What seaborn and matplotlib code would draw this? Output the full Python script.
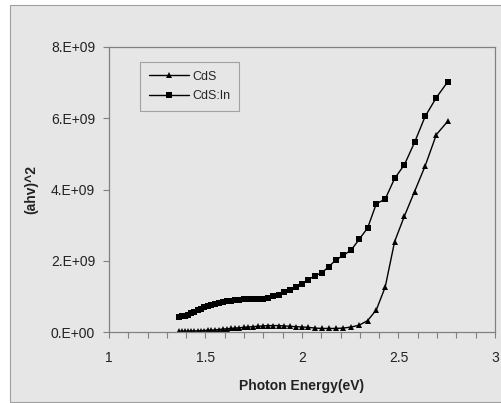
import matplotlib
matplotlib.use("Agg")
import matplotlib.pyplot as plt
from matplotlib.patches import Rectangle
from matplotlib.ticker import FuncFormatter, MultipleLocator
import seaborn as sns
import pandas as pd

# Photon energy (eV) of each measurement
energy = [2.756, 2.696, 2.638, 2.583, 2.531, 2.480, 2.431, 2.385, 2.340, 2.296,
          2.255, 2.214, 2.175, 2.138, 2.102, 2.067, 2.033, 2.000, 1.968, 1.938,
          1.908, 1.879, 1.851, 1.824, 1.797, 1.771, 1.746, 1.722, 1.699, 1.676,
          1.653, 1.632, 1.610, 1.590, 1.570, 1.550, 1.531, 1.512, 1.494, 1.476,
          1.459, 1.442, 1.425, 1.409, 1.393, 1.378, 1.363]

# (alpha h nu)^2 in units of 1e9
cds = [5.92, 5.54, 4.66, 3.94, 3.26, 2.54, 1.26, 0.62, 0.32, 0.19,
       0.14, 0.11, 0.10, 0.10, 0.10, 0.11, 0.13, 0.14, 0.15, 0.16,
       0.17, 0.18, 0.18, 0.18, 0.17, 0.16, 0.15, 0.14, 0.13, 0.12,
       0.11, 0.10, 0.09, 0.08, 0.07, 0.06, 0.05, 0.05, 0.04, 0.04,
       0.03, 0.03, 0.03, 0.02, 0.02, 0.02, 0.02]
cds_in = [7.03, 6.58, 6.05, 5.32, 4.70, 4.31, 3.73, 3.60, 2.92, 2.60,
          2.30, 2.15, 2.02, 1.83, 1.66, 1.58, 1.47, 1.35, 1.26, 1.19,
          1.11, 1.05, 1.00, 0.96, 0.93, 0.93, 0.93, 0.93, 0.92, 0.91,
          0.89, 0.88, 0.86, 0.84, 0.82, 0.80, 0.77, 0.74, 0.70, 0.65,
          0.61, 0.57, 0.53, 0.49, 0.46, 0.44, 0.42]

yticks = [0, 2e9, 4e9, 6e9, 8e9]

df = pd.DataFrame({
    "E": energy,
    "CdS": [v * 1e9 for v in cds],
    "CdS:In": [v * 1e9 for v in cds_in],
})

sns.set_style("white")
plt.rcParams["font.family"] = ["Liberation Sans", "DejaVu Sans"]

bg = "#e6e6e6"
fig = plt.figure(figsize=(5.02, 4.03), dpi=100, facecolor="white")
fig.patches.append(Rectangle((10 / 502, 1 / 403), 494 / 502, 397 / 403,
                             transform=fig.transFigure, facecolor=bg,
                             edgecolor="#a0a0a0", linewidth=0.8, zorder=-10))

ax = fig.add_axes([109 / 502, 71 / 403, 386 / 502, 285 / 403])
ax.set_facecolor(bg)

sns.lineplot(data=df, x="E", y="CdS", ax=ax, color="black", marker="^",
             markersize=4.5, markeredgewidth=0, linewidth=1.0, label="CdS")
sns.lineplot(data=df, x="E", y="CdS:In", ax=ax, color="black", marker="s",
             markersize=3.8, markeredgewidth=0, linewidth=1.0, label="CdS:In")

ax.set_xlim(1, 3)
ax.set_ylim(0, 8e9)
ax.xaxis.set_major_locator(MultipleLocator(0.5))
ax.xaxis.set_minor_locator(MultipleLocator(0.1))
ax.set_yticks(yticks)
ax.yaxis.set_major_formatter(FuncFormatter(
    lambda v, p: "0.E+00" if v == 0 else f"{v / 1e9:.0f}.E+09"))
ax.xaxis.set_major_formatter(FuncFormatter(lambda v, p: f"{v:g}"))

for s in ax.spines.values():
    s.set_color("#808080")
    s.set_linewidth(0.9)

ax.tick_params(axis="both", which="both", direction="out", color="#808080",
               width=0.8, labelsize=10, labelcolor="#222222")
ax.tick_params(axis="x", which="major", length=4, pad=10)
ax.tick_params(axis="x", which="minor", length=4)
ax.tick_params(axis="y", which="major", length=4, pad=6)
ax.tick_params(left=True, bottom=True)
ax.tick_params(axis="x", which="minor", bottom=True)

ax.set_xlabel("Photon Energy(eV)", fontsize=10, fontweight="bold",
              color="#222222", labelpad=10)
ax.set_ylabel("(ahv)^2", fontsize=10, fontweight="bold", color="#222222",
              labelpad=9)

leg = ax.legend(loc="upper left", bbox_to_anchor=(31 / 386, 1 - 15 / 285),
                borderaxespad=0, frameon=True, fancybox=False, fontsize=9,
                handlelength=3.2, borderpad=0.7, labelspacing=0.6,
                handletextpad=0.3)
leg.get_frame().set_facecolor(bg)
leg.get_frame().set_edgecolor("#909090")
leg.get_frame().set_linewidth(0.8)

fig.savefig("out.png", dpi=100, facecolor="white")
